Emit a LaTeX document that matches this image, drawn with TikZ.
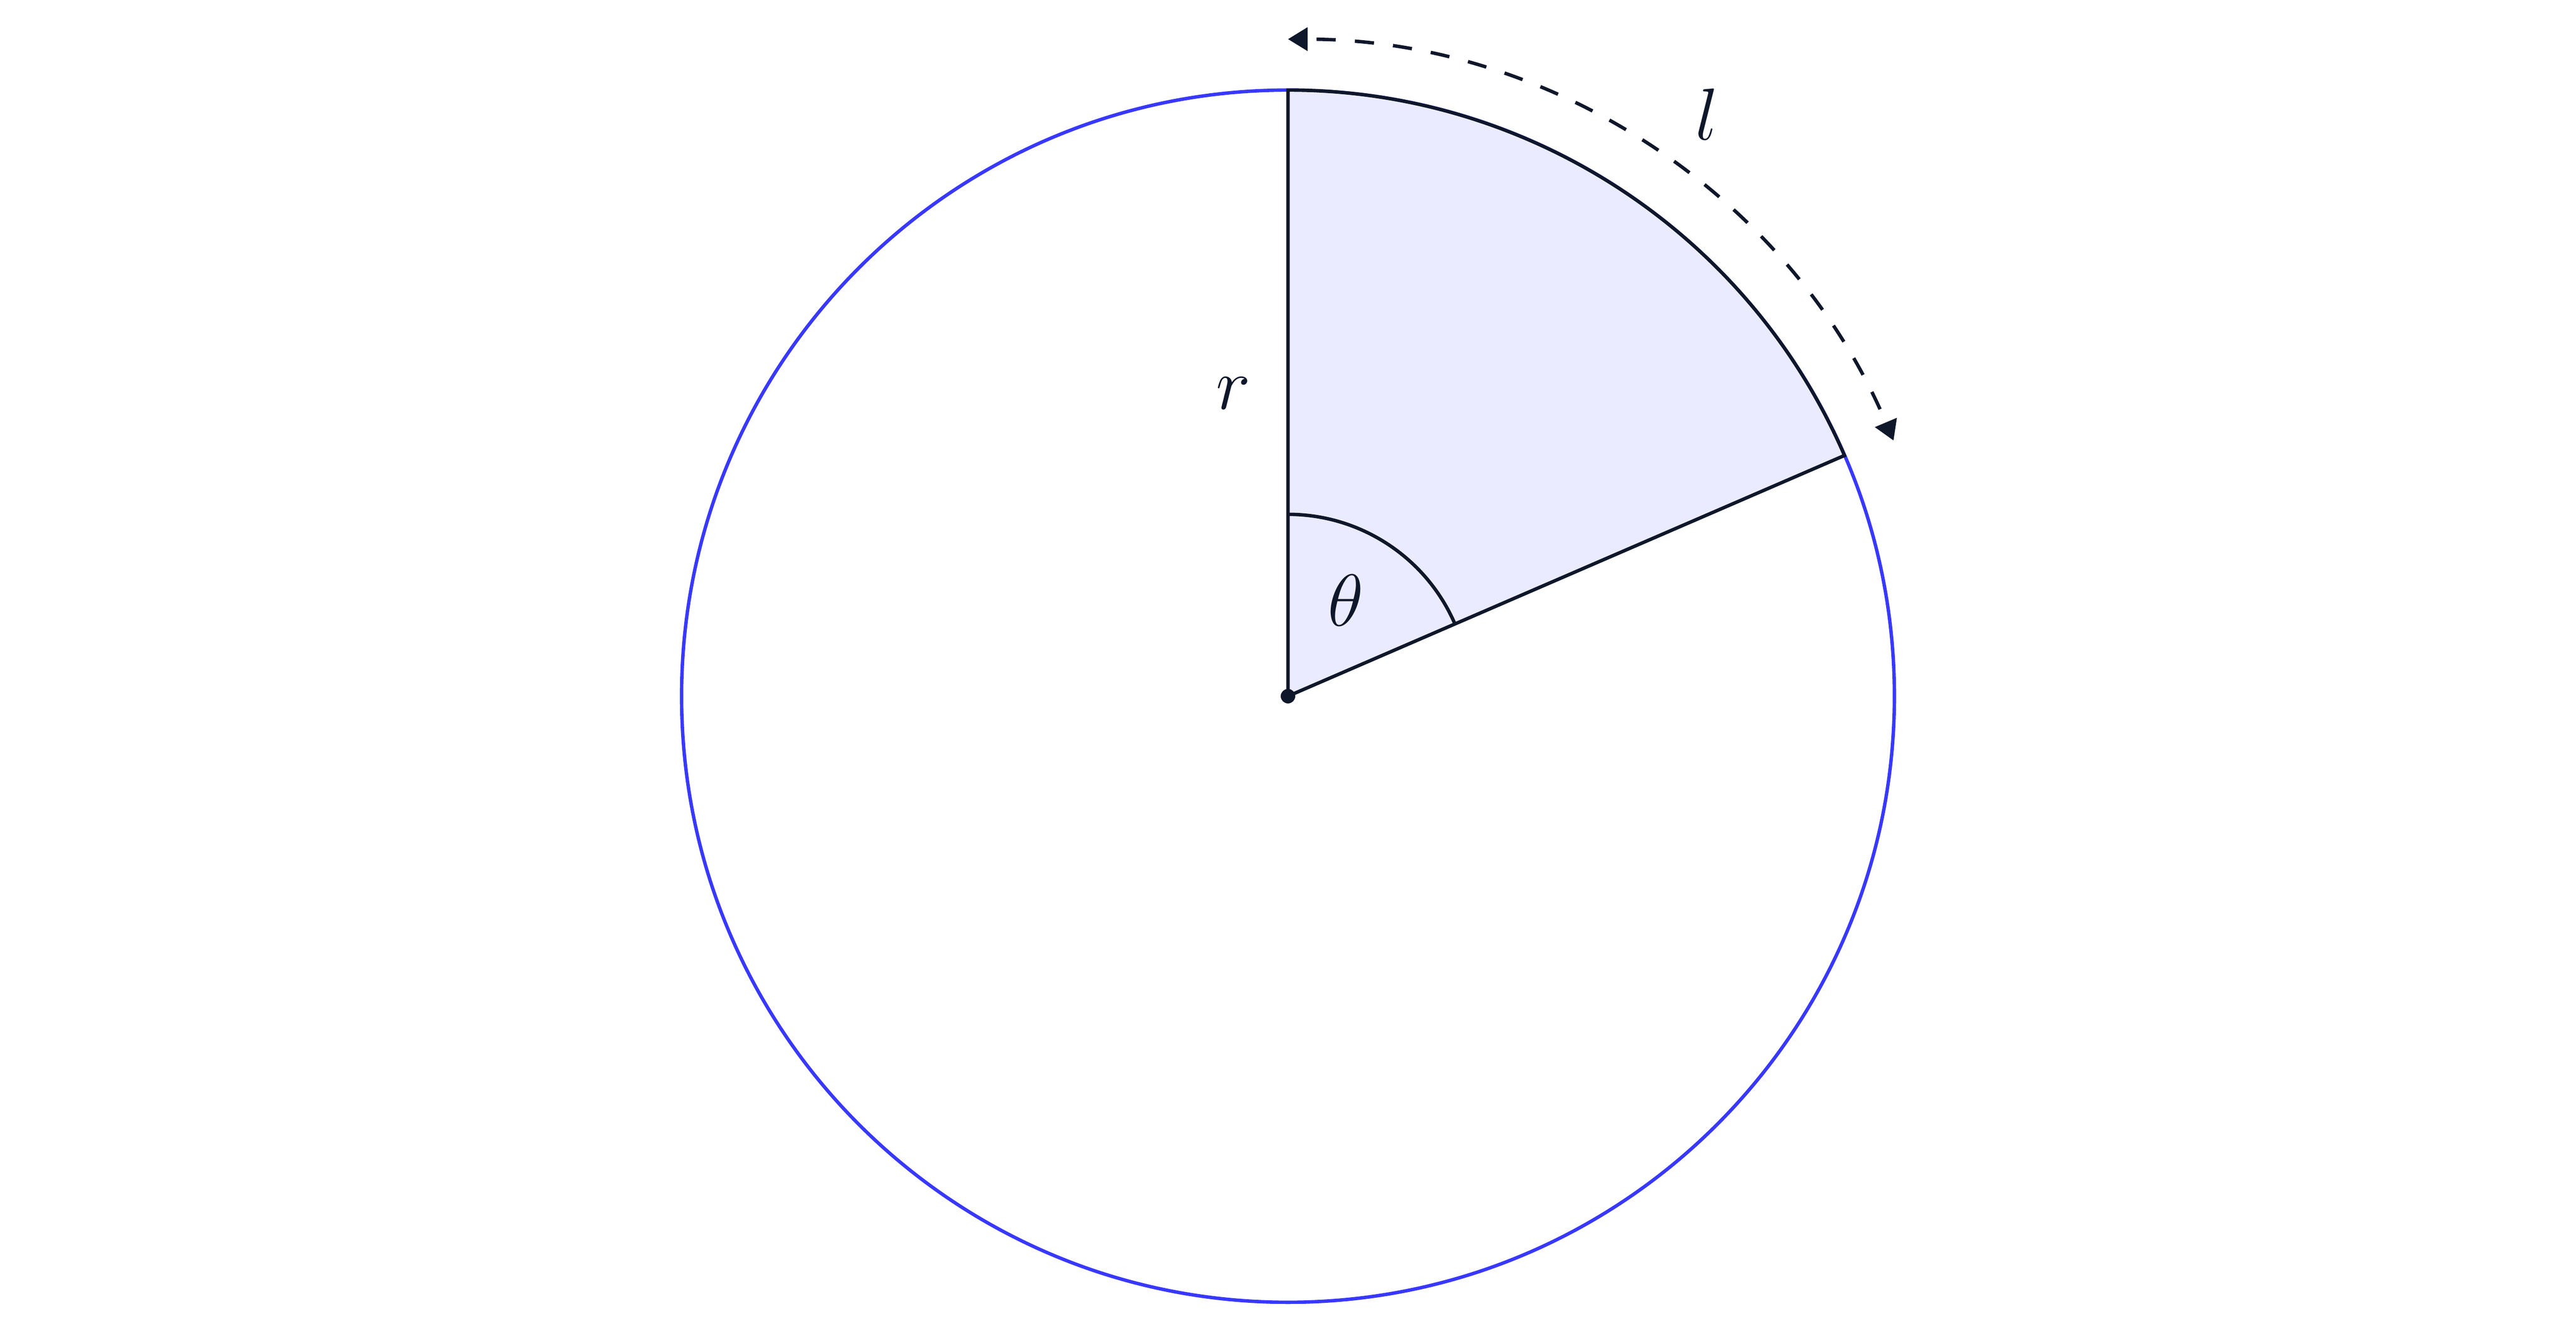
\documentclass[tikz,border=0pt]{standalone}
\usepackage{amsmath}
\usetikzlibrary{arrows.meta}

\definecolor{ink}{RGB}{15,23,42}
\definecolor{rim}{RGB}{56,56,255}

\tikzstyle{rimline}=[draw=rim,line width=0.8pt]
\tikzstyle{sector}=[draw=ink,fill=rim!10,line width=0.8pt,line join=miter]
\tikzstyle{edge} = [draw=ink,line width=0.8pt]
\tikzstyle{arclen} = [draw=ink,line width=0.8pt,dash pattern=on 4.5pt off 4.5pt,dash phase=6.7pt,
    {Triangle[length=4.6pt,width=5.4pt]}-{Triangle[length=4.6pt,width=5.4pt]}]
\tikzstyle{label} = [text=ink,font=\LARGE,inner sep=0pt]
\newcommand{\rad}{5}
\newcommand{\phistart}{23.4}

\begin{document}
\begin{tikzpicture}
    \useasboundingbox (-10.62,-5.335) rectangle (10.62,5.743);
    % First we place the points
    \coordinate (O) at (0,0);
    \coordinate (A) at (90:\rad);
    \coordinate (B) at (\phistart:\rad);
    \coordinate (T) at (90:1.5);
    \coordinate (L1) at (90:5.42);
    % Circle, then the sector on top of it
    \path[rimline] (O) circle[radius=\rad];
    \path[sector] (O) -- (A) arc[start angle=90, end angle=\phistart, radius=\rad] -- cycle;
    % angle mark and arc length
    \path[edge] (T) arc[start angle=90, end angle=\phistart, radius=1.5];
    \path[arclen] (L1) arc[start angle=90, end angle=22.9, radius=5.42];
    \fill[ink] (O) circle[radius=1.7pt];
    % labels
    \node[label] (r) at (-0.45,2.5) {$r$};
    \node[label] (theta) at (0.475,0.79) {$\theta$};
    \node[label] (l) at (3.455,4.8) {$l$};
\end{tikzpicture}
\end{document}
